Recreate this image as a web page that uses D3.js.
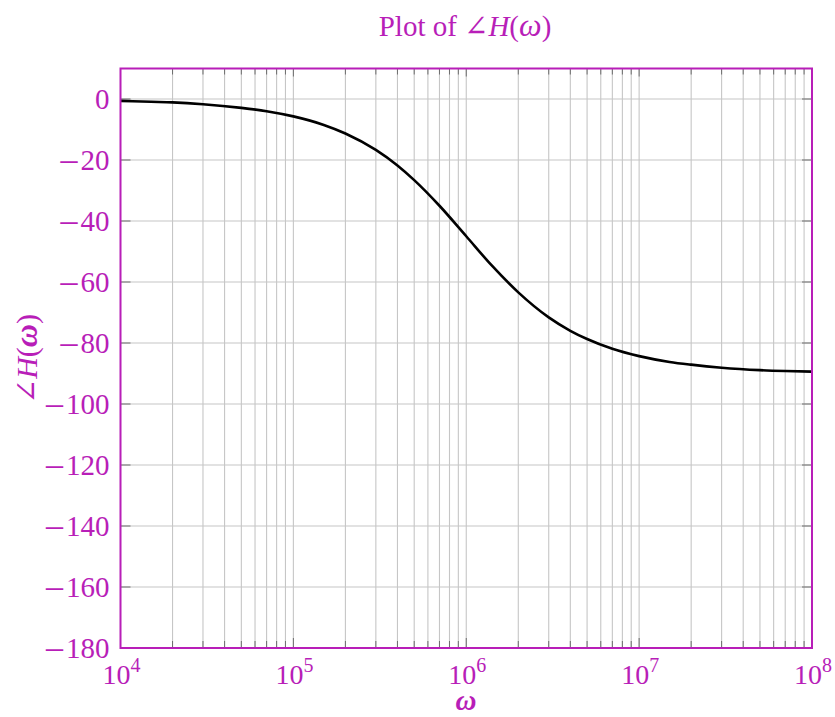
<!DOCTYPE html>
<html>
<head>
<meta charset="utf-8">
<script src="https://cdn.jsdelivr.net/npm/d3@7/dist/d3.min.js"></script>
<style>
  html, body { margin: 0; padding: 0; background: #fff; }
  svg text { font-family: "Liberation Serif", "DejaVu Serif", serif; }
</style>
</head>
<body>
<svg id="chart" width="835" height="717"></svg>
<script>
// Data: frequency (rad/s) and phase (degrees)
const omega = [1e4, 1.5e4, 2e4, 3e4, 5e4, 7e4, 1e5, 1.5e5, 2e5, 3e5, 4e5, 5e5, 7e5,
               1e6, 1.4e6, 2e6, 3e6, 4e6, 5e6, 7e6, 1e7, 1.5e7, 2e7, 3e7, 5e7, 7e7, 1e8];
const phase = [-0.6, -0.9, -1.1, -1.7, -2.9, -4.0, -5.7, -8.5, -11.3, -16.7, -21.8, -26.6, -35.0,
               -45.0, -54.5, -63.4, -71.6, -76.0, -78.7, -81.9, -84.3, -86.2, -87.1, -88.1, -88.9, -89.2, -89.4];
const yTicks = [0, -20, -40, -60, -80, -100, -120, -140, -160, -180];
const xMajorExp = [4, 5, 6, 7, 8];
const titleText = "Plot of ";
const xLabel = "ω";

const magenta = "#b81eb8";
const svg = d3.select("#chart");
const m = { left: 120.5, right: 812, top: 68.5, bottom: 648 };

const x = d3.scaleLog().domain([1e4, 1e8]).range([m.left, m.right]);
const y = d3.scaleLinear().domain([-180, 10]).range([m.bottom, m.top]);

const xGrid = [];
for (let e = 4; e < 8; e++) for (let k = 1; k < 10; k++) xGrid.push(k * Math.pow(10, e));
xGrid.push(1e8);

const g = svg.append("g");
g.selectAll("line.vg").data(xGrid).join("line")
  .attr("x1", d => x(d)).attr("x2", d => x(d))
  .attr("y1", m.top).attr("y2", m.bottom)
  .attr("stroke", "#c6c6c6").attr("stroke-width", 1.1);
g.selectAll("line.hg").data(yTicks).join("line")
  .attr("x1", m.left).attr("x2", m.right)
  .attr("y1", d => y(d)).attr("y2", d => y(d))
  .attr("stroke", "#c6c6c6").attr("stroke-width", 1.1);

const isMajor = d => Math.abs(Math.log10(d) - Math.round(Math.log10(d))) < 1e-9;
g.selectAll("line.tb").data(xGrid).join("line")
  .attr("x1", d => x(d)).attr("x2", d => x(d))
  .attr("y1", m.bottom).attr("y2", d => m.bottom - (isMajor(d) ? 10 : 7))
  .attr("stroke", "#6e6e6e").attr("stroke-width", 1);
g.selectAll("line.tt").data(xGrid).join("line")
  .attr("x1", d => x(d)).attr("x2", d => x(d))
  .attr("y1", m.top).attr("y2", d => m.top + (isMajor(d) ? 8 : 6))
  .attr("stroke", "#6e6e6e").attr("stroke-width", 1);
g.selectAll("line.tl").data(yTicks).join("line")
  .attr("x1", m.left).attr("x2", m.left + 10)
  .attr("y1", d => y(d)).attr("y2", d => y(d))
  .attr("stroke", "#6e6e6e").attr("stroke-width", 1);
g.selectAll("line.tr").data(yTicks).join("line")
  .attr("x1", m.right).attr("x2", m.right - 10)
  .attr("y1", d => y(d)).attr("y2", d => y(d))
  .attr("stroke", "#6e6e6e").attr("stroke-width", 1);

const line = d3.line()
  .x((d, i) => x(omega[i]))
  .y(d => y(d))
  .curve(d3.curveMonotoneX);
g.append("path").attr("d", line(phase))
  .attr("fill", "none").attr("stroke", "#000").attr("stroke-width", 2.6);

g.append("rect").attr("x", m.left).attr("y", m.top)
  .attr("width", m.right - m.left).attr("height", m.bottom - m.top)
  .attr("fill", "none").attr("stroke", magenta).attr("stroke-width", 2);

// y tick labels
const ytl = g.selectAll("text.yl").data(yTicks).join("text")
  .attr("x", m.left - 11).attr("y", d => y(d) + 9.5)
  .attr("text-anchor", "end").attr("fill", magenta).attr("font-size", 29);
ytl.filter(d => d < 0).append("tspan").attr("font-size", 34).text("\u2013");
ytl.append("tspan").attr("dx", d => d < 0 ? 3 : 0).text(d => String(Math.abs(d)));

// x tick labels 10^n
const xl = g.selectAll("text.xl").data(xMajorExp).join("text")
  .attr("x", d => x(Math.pow(10, d)) + 1)
  .attr("y", 684)
  .attr("text-anchor", "middle").attr("fill", magenta).attr("font-size", 28);
xl.append("tspan").text("10");
xl.append("tspan").attr("font-size", 20).attr("dy", -12).text(d => d);

// title
const t = svg.append("text").attr("x", 465).attr("y", 36)
  .attr("text-anchor", "middle").attr("fill", magenta).attr("font-size", 29);
t.append("tspan").text(titleText + "\u2220");
t.append("tspan").attr("font-style", "italic").text("H");
t.append("tspan").text("(");
t.append("tspan").attr("font-style", "italic").attr("font-size", 32).text("ω");
t.append("tspan").text(")");

// x label
svg.append("text").attr("x", 466).attr("y", 710)
  .attr("text-anchor", "middle").attr("fill", magenta).attr("font-size", 29)
  .attr("font-style", "italic").attr("font-weight", "bold").text(xLabel);

// y label
const yl = svg.append("text")
  .attr("transform", "translate(37,359) rotate(-90)")
  .attr("text-anchor", "middle").attr("fill", magenta).attr("font-size", 30);
yl.append("tspan").text("\u2220");
yl.append("tspan").attr("font-style", "italic").text("H");
yl.append("tspan").text("(");
yl.append("tspan").attr("font-style", "italic").attr("font-weight", "bold").attr("font-size", 32).text("ω");
yl.append("tspan").text(")");
</script>
</body>
</html>
